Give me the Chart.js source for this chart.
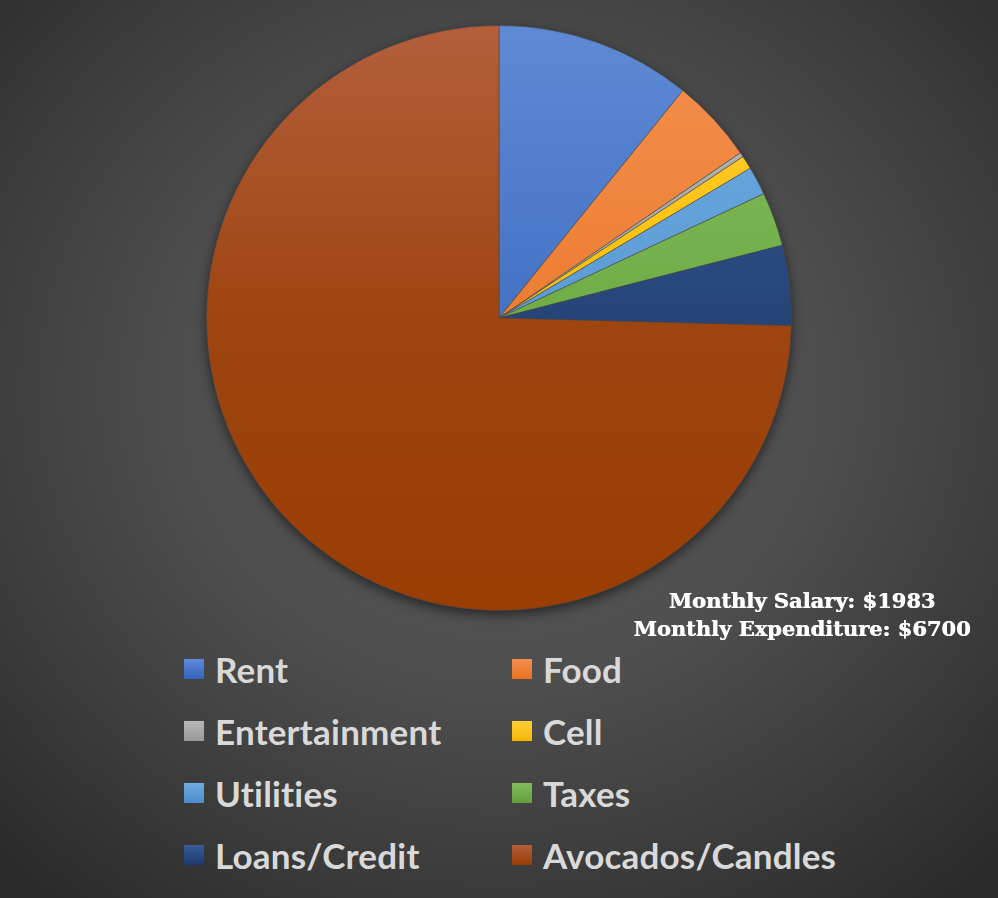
<!DOCTYPE html>
<html><head><meta charset="utf-8">
<script src="https://cdn.jsdelivr.net/npm/chart.js@4"></script>
<style>
html,body{margin:0;padding:0;width:998px;height:898px;overflow:hidden}
body{background: radial-gradient(ellipse 720px 660px at 500px 390px, #5a5a5a 0%, #4e4e4e 45%, #3b3b3b 75%, #2a2a2a 100%);}
#wrap{position:absolute;left:0;top:0;width:998px;height:634px}
#note{position:absolute;left:552px;top:587px;width:500px;text-align:center;font-family:"DejaVu Serif",serif;font-weight:bold;font-size:21px;color:#fff;line-height:28px;text-shadow:0.6px 0 0 #fff}
.li{position:absolute;height:40px;display:flex;align-items:center;font-family:Lato,sans-serif;font-weight:bold;font-size:35px;color:#d9d9d9;white-space:nowrap;letter-spacing:0.2px}
.sw{width:20px;height:20px;margin-right:11px;flex:none}
</style></head>
<body>
<div id="wrap"><canvas id="c"></canvas></div>
<div id="note"></div>
<div id="legend"></div>
<script>
const categories = ["Rent","Food","Entertainment","Cell","Utilities","Taxes","Loans/Credit","Avocados/Candles"];
const amounts = [725, 310, 17, 50, 105, 200, 296, 4997];
const salaryText = "Monthly Salary: $1983";
const expenditureText = "Monthly Expenditure: $6700";
const topColors = ["#5e8ad5","#f39050","#b8b8b8","#ffcd3c","#70abe1","#82bc5a","#375c98","#b35f3c"];
const baseColors = ["#4472c4","#ed7d31","#a5a5a5","#ffc000","#5b9bd5","#70ad47","#264478","#9e4510"];
const bottomColors = ["#3563c0","#e8721f","#989898","#f5b800","#4a8ccc","#62a03b","#1e3a6c","#993d03"];

document.getElementById('note').innerHTML = salaryText + '<br>' + expenditureText;

const gradCache = {};
function sliceColor(ctx){
  const chart = ctx.chart, ca = chart.chartArea, i = ctx.dataIndex;
  if(!ca) return baseColors[i];
  const key = i + ':' + ca.top + ':' + ca.bottom;
  if(gradCache[key]) return gradCache[key];
  const g = chart.ctx.createLinearGradient(0, ca.top, 0, ca.bottom);
  g.addColorStop(0, topColors[i]);
  g.addColorStop(0.5, baseColors[i]);
  g.addColorStop(1, bottomColors[i]);
  gradCache[key] = g;
  return g;
}

const shadowPlugin = {
  id: 'pieShadow',
  beforeDatasetsDraw(chart){
    const arc = chart.getDatasetMeta(0).data[0];
    if(!arc) return;
    const c = chart.ctx;
    c.save();
    c.shadowColor = 'rgba(0,0,0,0.55)';
    c.shadowBlur = 12;
    c.shadowOffsetY = 4;
    c.beginPath();
    c.arc(arc.x, arc.y, arc.outerRadius, 0, Math.PI*2);
    c.fillStyle = '#444';
    c.fill();
    c.restore();
  }
};

const chart = new Chart(document.getElementById('c'), {
  type: 'pie',
  data: {
    labels: categories,
    datasets: [{
      data: amounts,
      backgroundColor: sliceColor,
      borderColor: 'rgba(70,70,70,0.55)',
      borderWidth: 1
    }]
  },
  options: {
    responsive: true,
    maintainAspectRatio: false,
    animation: false,
    events: [],
    layout: { padding: { top: 25, bottom: 23, left: 0, right: 0 } },
    plugins: { legend: { display: false }, tooltip: { enabled: false } }
  },
  plugins: [shadowPlugin]
});

// Legend (two columns) built from the same categories/colors
const legend = document.getElementById('legend');
const colX = [184, 512];
const rowY = [649, 711, 773, 835];
categories.forEach((name, i) => {
  const d = document.createElement('div');
  d.className = 'li';
  d.style.left = colX[i % 2] + 'px';
  d.style.top = rowY[Math.floor(i / 2)] + 'px';
  const s = document.createElement('span');
  s.className = 'sw';
  s.style.background = 'linear-gradient(' + topColors[i] + ',' + bottomColors[i] + ')';
  const t = document.createElement('span');
  t.textContent = name;
  d.appendChild(s); d.appendChild(t);
  legend.appendChild(d);
});
</script>
</body></html>
